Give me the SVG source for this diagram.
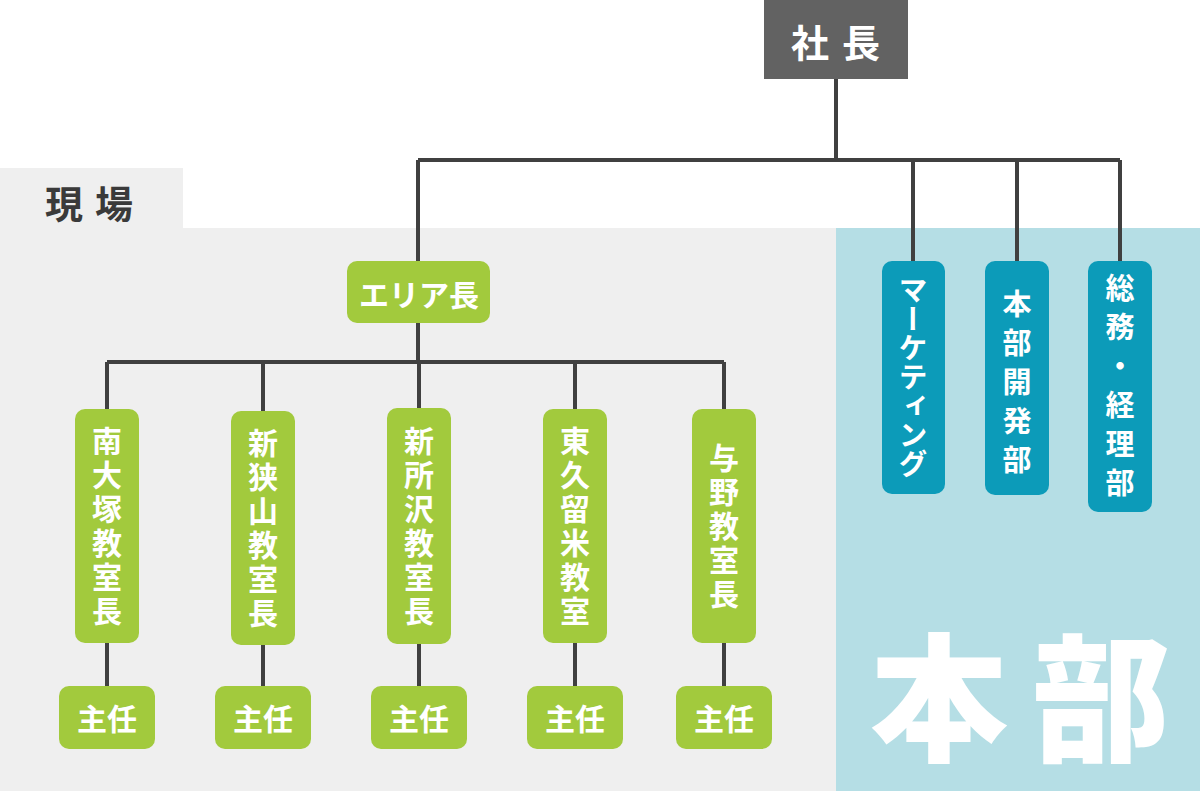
<svg xmlns="http://www.w3.org/2000/svg" width="1200" height="791" viewBox="0 0 1200 791">
<style>
.g{fill:#a2ca3d}
.b{fill:#0c9bb9}
.t{font-family:"Noto Sans CJK JP","Noto Sans CJK SC",sans-serif;font-weight:700;fill:#ffffff;text-anchor:middle}
.v{writing-mode:vertical-rl;font-size:30px;letter-spacing:4px}
.vb{writing-mode:vertical-rl;font-size:29px;letter-spacing:10px}
.h{font-size:30px;dominant-baseline:central}
.ln{fill:none;stroke:#404040;stroke-width:4}
</style>
<rect width="1200" height="791" fill="#ffffff"/>
<g id="genba-area">
<rect x="0" y="168" width="183" height="62" fill="#efefef"/>
<rect x="0" y="228" width="836" height="563" fill="#efefef"/>
<text x="95" y="201" font-family="Noto Sans CJK JP,sans-serif" font-weight="700" font-size="38" letter-spacing="12" fill="#3a3a3a" text-anchor="middle" dominant-baseline="central">現場</text>
</g>
<g id="honbu-area">
<rect x="836" y="228" width="364" height="563" fill="#b5dee5"/>
<text x="1032" y="690" font-family="Noto Sans CJK JP,sans-serif" font-weight="900" font-size="138" letter-spacing="24" fill="#ffffff" text-anchor="middle" dominant-baseline="central">本部</text>
</g>
<g id="connectors">
<path class="ln" d="M836 79V160M418 160H1120M418 160V261M913 160V261M1017 160V261M1120 160V261M418 323V362M107 362H724M107 362V409M263 362V411M419 362V408M575 362V409M724 362V409M107 643V686M263 645V686M419 644V686M575 643V686M724 643V686"/>
</g>
<g id="shacho">
<rect x="764" y="0" width="144" height="79" fill="#626262"/>
<text x="842" y="40" font-family="Noto Sans CJK JP,sans-serif" font-weight="700" font-size="38" letter-spacing="13" fill="#ffffff" text-anchor="middle" dominant-baseline="central">社長</text>
</g>
<g id="area-cho">
<rect class="g" x="347" y="261" width="143" height="62" rx="10"/>
<text class="t h" x="419" y="293">エリア長</text>
</g>
<g id="minami-otsuka">
<rect class="g" x="75" y="409" width="64" height="234" rx="10"/>
<text class="t v" x="107" y="528">南大塚教室長</text>
</g>
<g id="shin-sayama">
<rect class="g" x="231" y="411" width="64" height="234" rx="10"/>
<text class="t v" x="263" y="530">新狭山教室長</text>
</g>
<g id="shin-tokorozawa">
<rect class="g" x="387" y="408" width="64" height="236" rx="10"/>
<text class="t v" x="419" y="528">新所沢教室長</text>
</g>
<g id="higashi-kurume">
<rect class="g" x="543" y="409" width="64" height="234" rx="10"/>
<text class="t v" x="575" y="528">東久留米教室</text>
</g>
<g id="yono">
<rect class="g" x="692" y="409" width="64" height="234" rx="10"/>
<text class="t v" x="724" y="528">与野教室長</text>
</g>
<g id="shunin-1">
<rect class="g" x="59" y="686" width="96" height="63" rx="10"/>
<text class="t h" x="107" y="717">主任</text>
</g>
<g id="shunin-2">
<rect class="g" x="215" y="686" width="96" height="63" rx="10"/>
<text class="t h" x="263" y="717">主任</text>
</g>
<g id="shunin-3">
<rect class="g" x="371" y="686" width="96" height="63" rx="10"/>
<text class="t h" x="419" y="717">主任</text>
</g>
<g id="shunin-4">
<rect class="g" x="527" y="686" width="96" height="63" rx="10"/>
<text class="t h" x="575" y="717">主任</text>
</g>
<g id="shunin-5">
<rect class="g" x="676" y="686" width="96" height="63" rx="10"/>
<text class="t h" x="724" y="717">主任</text>
</g>
<g id="marketing">
<rect class="b" x="882" y="261" width="63" height="233" rx="10"/>
<text class="t" style="writing-mode:vertical-rl;font-size:29px" x="913" y="377">マーケティング</text>
</g>
<g id="honbu-kaihatsu">
<rect class="b" x="985" y="261" width="64" height="234" rx="10"/>
<text class="t vb" x="1017" y="387">本部開発部</text>
</g>
<g id="somu-keiri">
<rect class="b" x="1088" y="261" width="64" height="251" rx="10"/>
<text class="t vb" x="1120" y="390">総務・経理部</text>
</g>
</svg>
